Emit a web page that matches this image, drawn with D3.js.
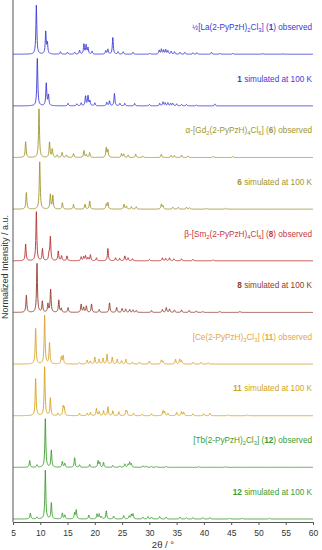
<!doctype html>
<html>
  <head>
    <script src="https://cdnjs.cloudflare.com/ajax/libs/d3/7.8.5/d3.min.js"></script>
    <style>
      body { margin: 0; background: #fff; }
      text { font-family: "Liberation Sans", Arial, sans-serif; }
      .trace { fill: none; stroke-width: 0.9; }
    </style>
  </head>
  <body>
    <svg id="chart" width="322" height="550"></svg>
    <script>
      // peak lists [2theta, relative intensity]
      var laObs = [[9.28,1],[11.0,0.45],[11.3,0.22],[13.7,0.05],[15.0,0.04],[16.3,0.04],[17.2,0.08],[18.0,0.2],[18.4,0.18],[18.75,0.13],[19.5,0.06],[22.0,0.07],[22.4,0.1],[23.3,0.35],[24.25,0.05],[25.2,0.05],[27.0,0.04],[30.1,0.02],[31.8,0.08],[32.2,0.1],[32.6,0.08],[33.0,0.09],[33.4,0.07],[34.0,0.06],[34.6,0.05],[35.6,0.04],[36.5,0.04],[38.0,0.03],[38.7,0.03],[41.4,0.04],[42.9,0.02],[45.3,0.02],[50.8,0.015],[54.5,0.01]];
      var laSim = [[9.46,1],[11.1,0.47],[11.5,0.22],[15.1,0.05],[16.7,0.04],[17.5,0.06],[18.3,0.2],[18.75,0.2],[19.1,0.1],[20.0,0.06],[22.2,0.07],[22.7,0.1],[23.6,0.25],[24.6,0.05],[25.5,0.05],[27.3,0.05],[30.0,0.03],[31.9,0.05],[32.5,0.08],[32.9,0.06],[33.4,0.06],[33.9,0.05],[34.3,0.05],[35.0,0.04],[35.9,0.03],[36.8,0.03],[38.6,0.02],[42.0,0.04]];
      var gdObs = [[7.32,0.32],[9.77,1],[11.7,0.32],[12.2,0.17],[13.1,0.05],[14.0,0.1],[14.8,0.05],[16.1,0.08],[18.0,0.14],[18.45,0.06],[19.06,0.1],[22.1,0.2],[22.4,0.15],[24.9,0.08],[25.3,0.07],[26.1,0.05],[27.5,0.07],[28.8,0.03],[32.2,0.07],[34.0,0.04],[34.6,0.04],[35.9,0.05],[37.1,0.03],[41.7,0.02],[45.3,0.02]];
      var gdSim = [[7.45,0.34],[9.9,1],[11.85,0.3],[12.3,0.28],[14.05,0.13],[16.1,0.1],[18.2,0.1],[19.06,0.17],[22.1,0.1],[22.4,0.13],[25.35,0.1],[25.8,0.06],[26.7,0.05],[27.6,0.05],[32.2,0.1],[32.5,0.07],[34.3,0.04],[35.3,0.04],[36.8,0.04],[37.4,0.03],[40.5,0.02],[44.0,0.02]];
      var smObs = [[7.32,0.34],[9.28,1],[10.4,0.24],[11.6,0.14],[11.85,0.48],[13.3,0.2],[13.9,0.1],[14.9,0.1],[17.5,0.08],[17.96,0.08],[18.3,0.1],[18.75,0.06],[19.2,0.12],[20.3,0.06],[22.4,0.25],[23.8,0.06],[24.55,0.05],[25.5,0.1],[26.1,0.06],[26.9,0.04],[30.0,0.03],[32.4,0.06],[33.0,0.05],[33.7,0.06],[34.5,0.04],[35.9,0.04],[38.0,0.03],[41.7,0.02]];
      var smSim = [[7.45,0.35],[9.4,1],[10.38,0.23],[11.4,0.17],[11.9,0.48],[13.4,0.25],[13.86,0.08],[15.1,0.1],[17.5,0.17],[17.96,0.1],[18.45,0.13],[19.4,0.17],[20.8,0.06],[22.7,0.2],[24.0,0.1],[25.0,0.08],[25.65,0.07],[26.4,0.06],[27.0,0.05],[27.6,0.04],[30.4,0.04],[32.4,0.06],[33.1,0.1],[33.7,0.07],[34.6,0.05],[35.9,0.05],[37.3,0.04],[38.6,0.03],[39.8,0.02],[42.9,0.02],[46.6,0.02]];
      var ceObs = [[9.15,0.73],[10.8,1],[11.7,0.44],[13.86,0.15],[14.2,0.17],[17.2,0.03],[18.6,0.08],[19.2,0.06],[20.0,0.14],[20.8,0.1],[21.5,0.12],[22.24,0.2],[23.2,0.14],[24.1,0.1],[24.9,0.07],[25.7,0.1],[26.9,0.04],[28.2,0.04],[30.0,0.06],[32.2,0.08],[32.5,0.06],[34.8,0.1],[35.56,0.1],[35.9,0.07],[38.0,0.04],[39.5,0.04],[40.8,0.03]];
      var ceSim = [[9.15,0.76],[10.8,1],[11.85,0.36],[13.25,0.05],[14.2,0.18],[14.4,0.15],[17.2,0.05],[18.6,0.05],[19.2,0.07],[20.3,0.15],[20.8,0.08],[21.6,0.1],[22.4,0.18],[23.3,0.1],[24.4,0.08],[25.7,0.1],[25.9,0.08],[27.1,0.05],[28.7,0.03],[30.4,0.04],[32.5,0.1],[32.8,0.08],[33.4,0.05],[35.0,0.07],[35.9,0.08],[36.3,0.07],[38.0,0.04],[39.96,0.04],[41.1,0.05],[44.5,0.02],[48.0,0.015]];
      var tbObs = [[8.06,0.14],[9.4,0.05],[10.93,1],[12.03,0.35],[14.05,0.12],[14.5,0.08],[16.3,0.2],[17.2,0.05],[19.06,0.06],[20.6,0.13],[20.9,0.1],[21.6,0.1],[23.3,0.04],[24.6,0.03],[25.5,0.07],[26.1,0.06],[26.4,0.1],[26.7,0.07],[28.8,0.03],[29.4,0.03],[30.4,0.02],[31.3,0.02],[33.1,0.02],[39.0,0.015],[44.0,0.015]];
      var tbSim = [[8.18,0.12],[9.4,0.04],[10.93,1],[12.03,0.33],[14.05,0.12],[14.5,0.08],[16.3,0.12],[16.6,0.18],[18.9,0.08],[20.4,0.1],[20.8,0.1],[21.2,0.05],[22.1,0.17],[23.45,0.06],[25.3,0.07],[26.3,0.06],[26.7,0.09],[27.0,0.1],[28.8,0.04],[29.75,0.05],[30.4,0.04],[31.9,0.05],[33.1,0.04],[35.6,0.04],[36.8,0.03],[38.0,0.03],[39.8,0.03],[41.1,0.03],[44.7,0.02],[47.0,0.015],[52.0,0.015]];

      var patterns = [laObs, laSim, gdObs, gdSim, smObs, smSim, ceObs, ceSim, tbObs, tbSim];
      var colors = ["#3b3bd8", "#3b3bd8", "#a0962e", "#a0962e", "#b8302e", "#8e3c2c", "#d9a330", "#d2a420", "#3c9c30", "#3c9c30"];
      var labelColors = ["#3b3bd8", "#3b3bd8", "#a0962e", "#a0962e", "#c8383a", "#8e3c2c", "#e8a540", "#d2a420", "#3c9c30", "#3c9c30"];
      // label pieces: [text, kind]  kind: "" normal, "s" subscript, "b" bold, "f" fraction
      var labels = [
        [["½", "f"], ["[La(2-PyPzH)", ""], ["2", "s"], ["Cl", ""], ["3", "s"], ["] (", ""], ["1", "b"], [") observed", ""]],
        [["1", "b"], [" simulated at 100 K", ""]],
        [["α-[Gd", ""], ["2", "s"], ["(2-PyPzH)", ""], ["4", "s"], ["Cl", ""], ["6", "s"], ["] (", ""], ["6", "b"], [") observed", ""]],
        [["6", "b"], [" simulated at 100 K", ""]],
        [["β-[Sm", ""], ["2", "s"], ["(2-PyPzH)", ""], ["4", "s"], ["Cl", ""], ["6", "s"], ["] (", ""], ["8", "b"], [") observed", ""]],
        [["8", "b"], [" simulated at 100 K", ""]],
        [["[Ce(2-PyPzH)", ""], ["3", "s"], ["Cl", ""], ["3", "s"], ["] (", ""], ["11", "b"], [") observed", ""]],
        [["11", "b"], [" simulated at 100 K", ""]],
        [["[Tb(2-PyPzH)", ""], ["2", "s"], ["Cl", ""], ["3", "s"], ["] (", ""], ["12", "b"], [") observed", ""]],
        [["12", "b"], [" simulated at 100 K", ""]]
      ];
      var xTicks = [5, 10, 15, 20, 25, 30, 35, 40, 45, 50, 55, 60];

      var W = 322, H = 550;
      var margin = {left: 13, right: 9, top: 0, bottom: 28};

      var svg = d3.select("#chart");

      var x = d3.scaleLinear().domain([5, 60]).range([margin.left, W - margin.right]);
      var y = d3.scaleLinear().domain([0, 10.05]).range([519, margin.top]);

      // pattern profile: sum of narrow lorentzian peaks on a sampled 2theta grid
      var grid = d3.range(5, 60.001, 0.04);
      var hw = 0.1;
      function profile(peaks) {
        return grid.map(t => {
          var s = 0;
          peaks.forEach(p => {
            var d = (t - p[0]) / hw;
            s += p[1] / (1 + d * d);
          });
          return [t, Math.min(s, 1)];
        });
      }

      var line = d3.line();
      patterns.forEach((peaks, i) => {
        var off = 9 - i;
        svg.append("path")
          .attr("class", "trace")
          .attr("stroke", colors[i])
          .attr("d", line(profile(peaks).map(d => [x(d[0]), y(off + d[1] * 0.95)])));

        var t = svg.append("text")
          .attr("x", x(60) - 1)
          .attr("y", y(off + 0.47))
          .attr("text-anchor", "end")
          .attr("font-size", 8.2)
          .attr("fill", labelColors[i]);
        labels[i].forEach(seg => {
          var ts = t.append("tspan").text(seg[0]);
          if (seg[1] === "s") ts.attr("font-size", 5.8).attr("baseline-shift", "-30%");
          if (seg[1] === "b") ts.attr("font-weight", "bold");
          if (seg[1] === "f") ts.attr("font-size", 7);
        });
      });

      // axes
      var xAxis = d3.axisBottom(x).tickValues(xTicks).tickSize(3).tickSizeOuter(0);
      var gx = svg.append("g")
        .attr("transform", `translate(0,522)`)
        .call(xAxis);
      gx.select(".domain").attr("stroke", "#555");
      gx.selectAll(".tick line").attr("stroke", "#555");
      gx.selectAll("text").attr("font-size", 8.5).attr("fill", "#333").attr("dy", "0.9em");

      svg.append("line")
        .attr("x1", margin.left).attr("x2", margin.left)
        .attr("y1", 0).attr("y2", 522)
        .attr("stroke", "#555");

      svg.append("text")
        .attr("x", (x(5) + x(60)) / 2)
        .attr("y", 548)
        .attr("text-anchor", "middle")
        .attr("font-size", 9.5)
        .attr("fill", "#333")
        .text("2θ / °");

      svg.append("text")
        .attr("transform", `translate(8,267) rotate(-90)`)
        .attr("text-anchor", "middle")
        .attr("font-size", 9)
        .attr("fill", "#333")
        .text("Normalized Intensity / a.u.");
    </script>
  </body>
</html>
